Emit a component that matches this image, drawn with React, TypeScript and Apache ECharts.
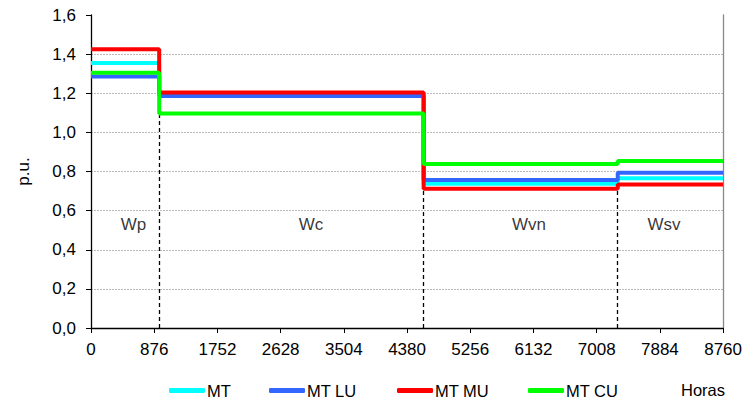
import React, { useEffect, useRef } from "react";
import * as echarts from "echarts";

const boundaries = [0, 945, 4610, 7300, 8760];
const seriesNames = ["MT", "MT LU", "MT MU", "MT CU"];
const mtValues = [1.355, 1.2, 0.738, 0.765];
const mtLuValues = [1.285, 1.186, 0.757, 0.794];
const mtMuValues = [1.425, 1.204, 0.712, 0.733];
const mtCuValues = [1.305, 1.096, 0.838, 0.854];
const periodNames = ["Wp", "Wc", "Wvn", "Wsv"];
const periodLabelX = [590, 3050, 6070, 7940];
const periodLabelY = 0.527;
const dividerTops = [1.096, 0.712, 0.712];
const xTicks = [0, 876, 1752, 2628, 3504, 4380, 5256, 6132, 7008, 7884, 8760];

const colors = ["#00FFFF", "#3366FF", "#FF0000", "#00FF00"];
const allValues = [mtValues, mtLuValues, mtMuValues, mtCuValues];

function stepData(vals: number[]) {
  const d: number[][] = vals.map((v, i) => [boundaries[i], v]);
  d.push([boundaries[boundaries.length - 1], vals[vals.length - 1]]);
  return d;
}

const FONT = "Liberation Sans";
const AXIS_FS = 17;
const LEG_FS = 16.5;

export default function App() {
  const ref = useRef<HTMLDivElement>(null);
  useEffect(() => {
    if (!ref.current) return;
    const chart = echarts.init(ref.current, null, { renderer: "svg" });
    const lineSeries = seriesNames.map((name, i) => ({
      name,
      type: "line",
      step: "end",
      data: stepData(allValues[i]),
      showSymbol: false,
      symbol: "none",
      lineStyle: { color: colors[i], width: 4 },
      itemStyle: { color: colors[i] },
      z: 3 + i,
      markLine:
        i === 0
          ? {
              silent: true,
              symbol: "none",
              label: { show: false },
              lineStyle: { color: "#000", type: [4, 3], width: 1.3 },
              data: dividerTops.map((top, k) => [
                { coord: [boundaries[k + 1], 0] },
                { coord: [boundaries[k + 1], top] },
              ]),
            }
          : undefined,
    }));
    const legendLefts = [164, 264, 392, 523];
    const gridColors = ["#bbb", "#bbb", "#bbb", "#bbb", "#bbb", "#bbb", "#bbb", "#bbb", "rgba(0,0,0,0)"];
    chart.setOption({
      animation: false,
      grid: { left: 91, right: 20, top: 15, bottom: 73 },
      legend: seriesNames.map((n, i) => ({
        data: [n],
        left: legendLefts[i],
        top: 377,
        icon: "roundRect",
        itemWidth: 36,
        itemHeight: 5,
        itemGap: 2,
        textStyle: { fontFamily: FONT, fontSize: LEG_FS, color: "#000", padding: [0, 0, 0, -3] },
      })),
      xAxis: {
        type: "value",
        min: 0,
        max: 8760,
        interval: 876,
        axisLine: { show: true, lineStyle: { color: "#000", width: 1.3 } },
        axisTick: { show: true, inside: false, length: 5, lineStyle: { color: "#000" } },
        axisLabel: {
          fontFamily: FONT,
          fontSize: AXIS_FS,
          color: "#000",
          margin: 13,
          formatter: (v: number) => (xTicks.includes(v) ? String(v) : ""),
        },
        splitLine: { show: false },
      },
      yAxis: [
        {
          type: "value",
          min: 0,
          max: 1.6,
          interval: 0.2,
          name: "p.u.",
          nameLocation: "middle",
          nameGap: 59,
          nameTextStyle: { fontFamily: FONT, fontSize: AXIS_FS, color: "#000" },
          axisLine: { show: true, lineStyle: { color: "#000", width: 1.3 } },
          axisTick: { show: true, length: 5, lineStyle: { color: "#000" } },
          axisLabel: {
            fontFamily: FONT,
            fontSize: AXIS_FS,
            color: "#000",
            margin: 15,
            formatter: (v: number) => v.toFixed(1).replace(".", ","),
          },
          splitLine: { show: true, lineStyle: { color: gridColors, type: [2, 1], width: 1 } },
        },
        {
          type: "value",
          position: "right",
          min: 0,
          max: 1.6,
          interval: 0.2,
          axisLine: { show: true, lineStyle: { color: "#888", width: 1.3 } },
          axisTick: { show: false },
          axisLabel: { show: false },
          splitLine: { show: false },
        },
      ],
      graphic: [
        {
          type: "text",
          left: 681,
          top: 381,
          style: { text: "Horas", fontFamily: FONT, fontSize: LEG_FS, fill: "#000" },
        },
      ],
      series: [
        ...lineSeries,
        {
          type: "scatter",
          symbolSize: 0,
          silent: true,
          data: periodNames.map((n, i) => ({ value: [periodLabelX[i], periodLabelY], name: n })),
          label: {
            show: true,
            position: "inside",
            formatter: (p: any) => p.name,
            fontFamily: FONT,
            fontSize: AXIS_FS,
            color: "#000",
          },
        },
      ],
    });
    return () => chart.dispose();
  }, []);
  return (
    <div
      ref={ref}
      style={{ position: "absolute", left: 0, top: 0, width: 745, height: 401, background: "#fff" }}
    />
  );
}
